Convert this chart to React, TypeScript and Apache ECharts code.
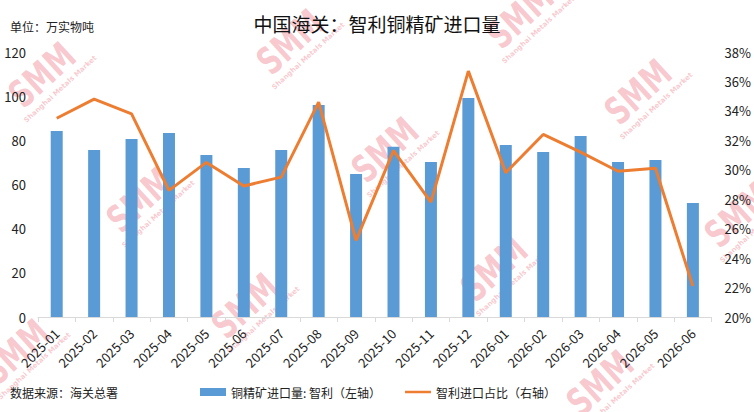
import { useEffect, useRef } from 'react';
import * as echarts from 'echarts';

const months = [
  '2025-01', '2025-02', '2025-03', '2025-04', '2025-05', '2025-06', '2025-07', '2025-08', '2025-09',
  '2025-10', '2025-11', '2025-12', '2026-01', '2026-02', '2026-03', '2026-04', '2026-05', '2026-06',
];
// 铜精矿进口量：智利（万实物吨）
const chileImports = [84.2, 75.6, 80.6, 83.3, 73.4, 67.5, 75.6, 96, 64.8, 77.1, 70.2, 99.2, 77.9, 74.7, 82, 70.2, 71.1, 51.6];
// 智利进口占比（%）
const chileShare = [33.5, 34.8, 33.8, 28.6, 30.5, 28.9, 29.5, 34.6, 25.2, 31.3, 27.8, 36.7, 29.8, 32.4, 31.2, 29.9, 30.1, 22.1];

// 水印位置
const marks = [
  [42, 75], [290, 42], [140, 200], [385, 150], [520, 16], [638, 92],
  [738, 215], [245, 306], [16, 352], [494, 269], [600, 383],
];

const FONT = '"Noto Sans CJK SC", "Noto Sans", sans-serif';
const PINK = 'rgba(232,70,85,0.3)';
const LINE_ICON = 'path://M0,0 L26,0 L26,0.01 Z M0,2.7 L26,2.7 L26,5.3 L0,5.3 Z M0,8 L26,8 L26,8.01 Z';

function watermark(x: number, y: number) {
  return {
    type: 'group',
    x,
    y,
    rotation: 0.74,
    z: 100,
    silent: true,
    children: [
      {
        type: 'text',
        scaleX: 0.72,
        style: {
          text: 'SMM', x: 0, y: 0, fontSize: 38, fontWeight: 'bold', fontFamily: 'DejaVu Sans',
          fill: PINK, align: 'center', verticalAlign: 'middle',
        },
      },
      {
        type: 'text',
        style: {
          text: 'Shanghai Metals Market', x: 4, y: 23, fontSize: 7, fontWeight: 'bold', fontFamily: 'DejaVu Sans',
          fill: PINK, align: 'center', verticalAlign: 'middle',
        },
      },
    ],
  };
}

export default function App() {
  const ref = useRef<HTMLDivElement>(null);

  useEffect(() => {
    if (!ref.current) return;
    document.body.style.margin = '0';
    const chart = echarts.init(ref.current, null, { renderer: 'svg' });
    chart.setOption({
      animation: false,
      textStyle: { fontFamily: FONT },
      title: {
        text: '中国海关：智利铜精矿进口量',
        left: 'center',
        top: 9,
        textStyle: { fontSize: 19, fontWeight: 'normal', color: '#111', fontFamily: FONT },
      },
      graphic: [
        { type: 'text', left: 10, top: 20, style: { text: '单位：万实物吨', fontSize: 12, fill: '#222', fontFamily: FONT } },
        { type: 'text', left: 10, top: 386, style: { text: '数据来源：海关总署', fontSize: 12, fill: '#222', fontFamily: FONT } },
        ...marks.map(([x, y]) => watermark(x, y)),
      ],
      legend: {
        left: 195,
        top: 381,
        itemWidth: 26,
        itemHeight: 8,
        itemGap: 24,
        textStyle: { fontSize: 12, color: '#222', fontFamily: FONT },
        data: [
          { name: '铜精矿进口量: 智利（左轴）', icon: 'rect' },
          { name: '智利进口占比（右轴）', icon: LINE_ICON, itemStyle: { color: '#ed7d31' } },
        ],
      },
      grid: { left: 38, right: 41, top: 52, bottom: 95 },
      xAxis: {
        type: 'category',
        data: months,
        axisLine: { lineStyle: { color: '#d9d9d9' } },
        axisTick: { show: true, length: 5, lineStyle: { color: '#d9d9d9' } },
        axisLabel: { rotate: 45, fontSize: 13, color: '#222', margin: 14, interval: 0 },
      },
      yAxis: [
        {
          type: 'value',
          min: 0,
          max: 120,
          interval: 20,
          splitLine: { show: false },
          axisLine: { show: false },
          axisLabel: { fontSize: 13, color: '#222', margin: 12 },
        },
        {
          type: 'value',
          min: 20,
          max: 38,
          interval: 2,
          splitLine: { show: false },
          axisLine: { show: false },
          axisLabel: { fontSize: 13, color: '#222', formatter: '{value}%', margin: 13 },
        },
      ],
      series: [
        {
          name: '铜精矿进口量: 智利（左轴）',
          type: 'bar',
          data: chileImports,
          barWidth: 12,
          itemStyle: { color: '#5b9bd5' },
        },
        {
          name: '智利进口占比（右轴）',
          type: 'line',
          yAxisIndex: 1,
          data: chileShare,
          symbol: 'none',
          lineStyle: { color: '#ed7d31', width: 3 },
          itemStyle: { color: '#ed7d31' },
        },
      ],
    });
    return () => chart.dispose();
  }, []);

  return <div ref={ref} style={{ width: 754, height: 412 }} />;
}
